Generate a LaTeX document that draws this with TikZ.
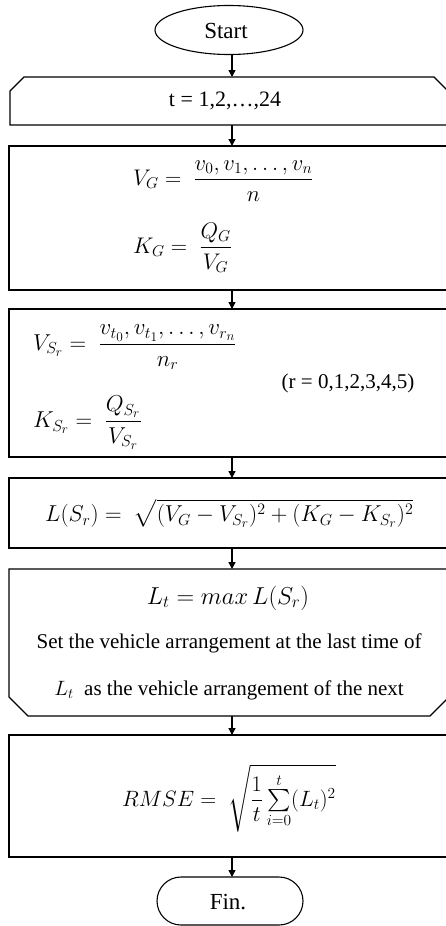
\documentclass[tikz,border=0pt]{standalone}
\usepackage{amsmath}
\usepackage{fontspec}
\setmainfont{Liberation Serif}
\usetikzlibrary{shapes.geometric,shapes.misc,arrows.meta,calc}
\begin{document}
\begin{tikzpicture}[x=1pt,y=-1pt,
  outline/.style={draw=black, line width=1.1pt, inner sep=0pt, outer sep=0pt},
  frame/.style={draw=none, rectangle, inner sep=0pt, outer sep=0pt, minimum width=440pt},
  boxnode/.style={outline, rectangle, minimum width=440pt, anchor=north},
  termnode/.style={outline, minimum width=147pt, minimum height=48pt},
  arr/.style={line width=1.4pt, -{Triangle[length=7pt,width=7pt]}},
  txt/.style={inner sep=0pt, font=\fontsize{21}{25}\selectfont},
  bigtxt/.style={inner sep=0pt, font=\fontsize{23}{27}\selectfont},
  eq/.style={inner sep=0pt, font=\fontsize{20.74}{25}\selectfont, transform shape, scale=#1},
  eq/.default=1.109]
\useasboundingbox (0,0) rectangle (445,926);
% shapes
\node[termnode, ellipse, minimum width=148pt, minimum height=49pt] (start) at (229,30) {};
\node[frame, minimum width=438pt, minimum height=48pt] (loop) at (229,101) {};
\draw[line width=1.1pt] (loop.south west) -- ($(loop.north west)+(0,14)$) -- ($(loop.north west)+(14,0)$)
  -- ($(loop.north east)+(-14,0)$) -- ($(loop.north east)+(0,14)$) -- (loop.south east) -- cycle;
\node[boxnode, minimum height=144pt] (b1) at (229,146) {};
\node[boxnode, minimum height=148pt] (b2) at (229,309) {};
\node[boxnode, minimum height=70pt] (b3) at (229,478) {};
\node[frame, minimum height=147pt] (b4) at (229,642.5) {};
\draw[line width=1.1pt] (b4.north west) -- ($(b4.south west)+(0,-19)$) -- ($(b4.south west)+(19,0)$)
  -- ($(b4.south east)+(-19,0)$) -- ($(b4.south east)+(0,-19)$) -- (b4.north east) -- cycle;
\node[boxnode, minimum height=122pt] (b5) at (229,735) {};
\node[termnode, rounded rectangle, minimum width=146pt] (fin) at (230,901) {};
% texts
\node[bigtxt] (tstart) at (226,31) {Start};
\node[txt, font=\fontsize{22}{26}\selectfont] (tloop) at (225,101) {t = 1,2,…,24};
\node[eq=1.09, anchor=mid west] (eVG) at (133,183) {$\displaystyle V_G =\ \frac{v_0, v_1, \ldots, v_n}{n}$};
\node[eq=1.09, anchor=mid west] (eKG) at (133,251) {$\displaystyle K_G =\ \frac{Q_G}{V_G}$};
\node[eq, anchor=mid west] (eVS) at (33,348) {$\displaystyle V_{S_r} =\ \frac{v_{t_0}, v_{t_1}, \ldots, v_{r_n}}{n_r}$};
\node[eq, anchor=mid west] (eKS) at (33,425) {$\displaystyle K_{S_r} =\ \frac{Q_{S_r}}{V_{S_r}}$};
\node[txt] (tr) at (348,383) {(r = 0,1,2,3,4,5)};
\node[eq, anchor=mid west] (eL) at (45,519) {$\displaystyle L(S_r) =\ \sqrt{(V_G - V_{S_r})^2 + (K_G - K_{S_r})^2}$};
\node[eq=1.18] (eLt) at (228,598) {$L_t = max\,L(S_r)$};
\node[txt] (tset1) at (229,643) {Set the vehicle arrangement at the last time of};
\node[txt] (tset2) at (229,690) {$L_t$\ \ as the vehicle arrangement of the next};
\node[eq=1.07, anchor=mid west] (eR) at (122,804) {$\displaystyle RMSE =\ \sqrt{\frac{1}{t}\textstyle\sum\limits_{i=0}^{t}(L_t)^2}$};
\node[bigtxt] (tfin) at (228,902) {Fin.};
% connectors
\coordinate (ax) at (232,0);
\draw[arr] (start.south -| ax) -- (loop.north -| ax);
\draw[arr] (loop.south -| ax) -- (b1.north -| ax);
\draw[arr] (b1.south -| ax) -- (b2.north -| ax);
\draw[arr] (b2.south -| ax) -- (b3.north -| ax);
\draw[arr] (b3.south -| ax) -- (b4.north -| ax);
\draw[arr] (b4.south -| ax) -- (b5.north -| ax);
\draw[arr] (b5.south -| ax) -- (fin.north -| ax);
\end{tikzpicture}
\end{document}
